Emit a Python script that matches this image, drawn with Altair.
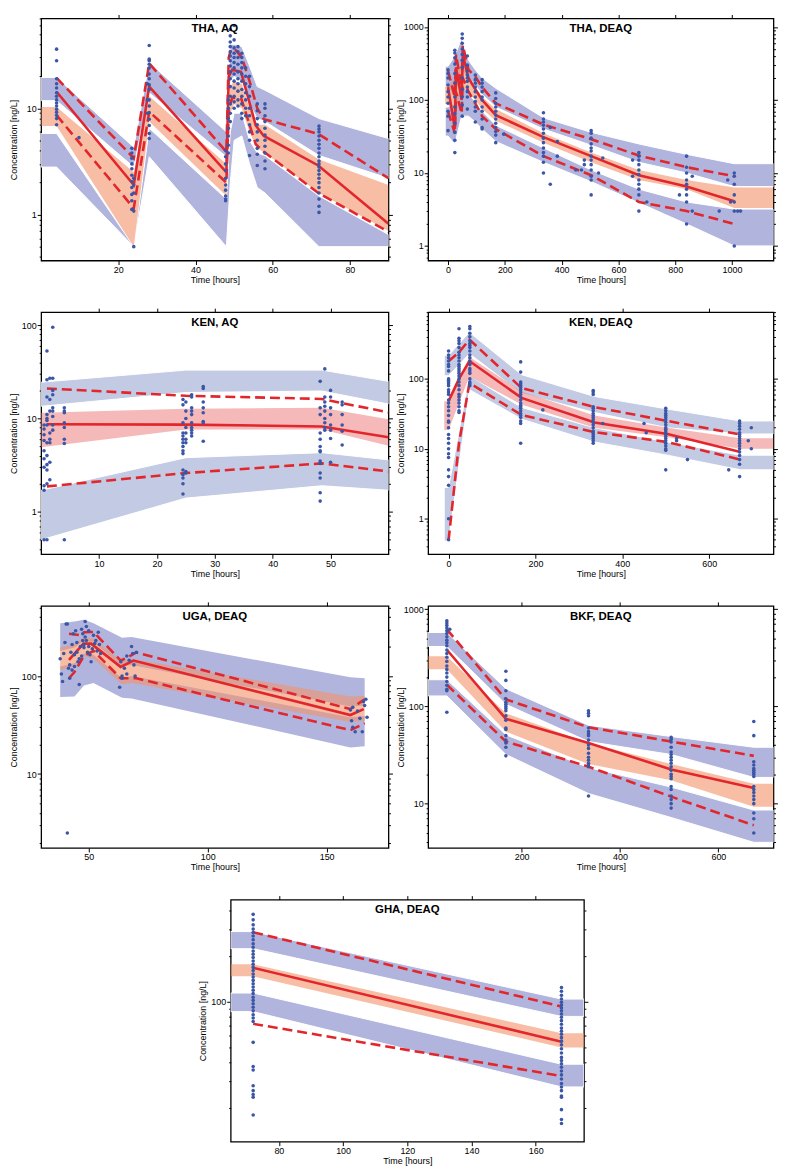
import altair as alt
import pandas as pd

FONT = "Liberation Sans"
RED = "#e3262b"
DOT = "#3b56a6"
BLUE_A = "#b1b5de"
BLUE_K = "#c2cae4"
ORANGE = "#f29369"
PINK = "#ee8a8a"

# ---------------- THA, AQ ----------------
THA_AQ_BT = [0, 4, 24, 28, 48, 49, 50, 52, 54, 56, 58, 72, 90]
THA_AQ_UL = [11.8, 11.8, 2.8, 14, 3.5, 18, 20, 18, 11, 8, 7.5, 3.6, 2.2]
THA_AQ_UH = [19.5, 19.5, 4.3, 27, 6, 40, 40, 38, 25, 16, 14.8, 8, 5.2]
THA_AQ_ML = [6.8, 6.8, 0.5, 7.5, 1.5, 9, 11, 10, 6, 4.2, 3.8, 1.6, 0.7]
THA_AQ_MH = [10.3, 10.3, 2.5, 13, 3.0, 16, 18, 17, 10, 7, 7, 3.3, 1.9]
THA_AQ_LL = [2.8, 2.8, 0.5, 3.5, 0.5, 2, 5, 5.5, 3, 1.8, 1.6, 0.5, 0.5]
THA_AQ_LH = [5.8, 5.8, 0.5, 6.5, 1.4, 6, 9, 9, 5, 3.8, 3.6, 1.5, 0.65]
THA_AQ_MED = ([4, 24, 28, 48, 48.6, 49.5, 51.8, 55.6, 57.7, 71.8, 90],
              [14.3, 1.9, 16, 2.5, 20, 23, 22, 6.9, 5.5, 2.9, 0.82])
THA_AQ_P95 = ([4, 24, 28, 48, 48.6, 49.2, 50.5, 52, 54, 56, 57.7, 71.8, 90],
              [19.3, 3.4, 26.5, 3.9, 30, 36, 35, 30, 18, 10, 7.9, 5.75, 2.2])
THA_AQ_P05 = ([4, 24, 28, 48, 48.6, 49.5, 51.8, 55.6, 57.7, 71.8, 90],
              [8.6, 1.15, 9.3, 2.0, 10, 12.5, 12.5, 4.6, 3.9, 1.6, 0.69])
THA_AQ_OBS = [
    (4, [36, 28, 19, 17, 15.5, 14, 13, 12, 11.2, 10.5, 9.8, 9.2, 8.6, 8, 7]),
    (9.8, [5.3]),
    (23.5, [4.2, 3.8, 3.4, 3.0, 2.7, 2.35, 2.05, 1.8, 1.55, 1.35, 1.12]),
    (24, [1.08, 0.5, 2.2, 1.9, 1.6]),
    (27.5, [17, 12, 9]),
    (28, [39, 29, 28, 26, 24, 21, 19, 16.6, 15, 12, 10.5, 9.1, 7.9, 6.9, 5.8, 5.2]),
    (47.8, [4, 3.5, 3, 2.6, 2.2, 1.9, 1.7, 1.5, 1.4, 1.35]),
    (48.5, [12, 10, 8, 6.5, 5.5, 4.5, 3.8]),
    (49, [55, 48, 42, 38, 34, 31, 28, 25, 22, 19, 16, 13, 11, 9, 7.5]),
    (50, [60, 44, 37, 33, 30, 27, 24, 21, 18, 15.5, 13, 11.5, 10]),
    (51, [38, 34, 30, 26, 22, 19, 17, 14.5, 12, 10.5]),
    (52, [33, 30, 27, 24, 21, 18, 15, 13, 11, 9, 8]),
    (53, [24, 20, 17, 14, 12, 10, 8.5]),
    (54, [20, 16, 13, 10, 8.5, 7, 6, 5, 3.6]),
    (56, [11, 9.5, 8, 7, 6, 5, 4.2, 3.7, 2.9]),
    (58, [11, 10, 8.5, 7.5, 6.5, 5.6, 5, 4.4, 3.8, 3.2, 2.7]),
    (72, [6.8, 6.4, 6, 5.5, 5, 4.6, 4.2, 3.8, 3.5, 3.2, 3, 2.8, 2.6, 2.4, 2.2, 2,
          1.8, 1.6, 1.4, 1.2, 1.05]),
]

# ---------------- THA, DEAQ ----------------
THA_DE_BT = [-10, 0, 24, 48, 72, 96, 120, 168, 336, 504, 672, 840, 1008, 1146]
THA_DE_UL = [150, 150, 100, 250, 200, 160, 120, 80, 40, 24, 14, 10, 6.5, 6.5]
THA_DE_UH = [290, 290, 400, 700, 350, 260, 200, 145, 57, 36, 25, 18, 13.4, 13.4]
THA_DE_ML = [88, 88, 60, 150, 130, 100, 75, 52, 26, 14, 8, 6, 3.3, 3.3]
THA_DE_MH = [150, 150, 200, 350, 200, 150, 110, 75, 35, 19, 11, 8, 6.3, 6.3]
THA_DE_LL = [32, 32, 25, 60, 60, 50, 40, 27, 14, 7.6, 3.9, 2.0, 1.0, 1.0]
THA_DE_LH = [80, 80, 90, 180, 120, 95, 70, 45, 22, 11, 6, 4, 3.2, 3.2]
THA_DE_T = [0, 24, 28, 48, 52, 72, 96, 120, 168, 336, 504, 672, 840, 1008]
THA_DE_MED = (THA_DE_T, [150, 40, 280, 100, 420, 200, 140, 100, 62, 31, 17, 9.3, 6.5, 4.1])
THA_DE_P95 = (THA_DE_T, [250, 110, 420, 150, 560, 260, 210, 150, 90, 46, 29, 17.3, 12, 9])
THA_DE_P05 = (THA_DE_T, [70, 35, 130, 65, 200, 130, 90, 60, 40, 17, 9.3, 4.0, 3.0, 2.0])
THA_DE_OBS = [
    (0, [260, 230, 200, 160, 130, 110, 90, 70, 60, 38]),
    (24, [480, 440, 380, 310, 230, 170, 110, 80, 65, 48, 36, 28, 19]),
    (50, [800, 700, 600, 500, 420, 350, 280, 200, 140, 110, 85, 60]),
    (68, [400, 300, 250, 220, 200, 180, 150, 130, 110, 75]),
    (96, [220, 190, 170, 150, 130, 110, 95, 80, 70, 50]),
    (120, [190, 170, 150, 130, 110, 100, 80, 70, 55, 42, 40]),
    (168, [125, 105, 90, 80, 70, 62, 55, 48, 42, 37, 33, 26]),
    (196, [34]),
    (336, [67, 55, 50, 45, 40, 35, 30, 26, 22, 19, 17, 14, 10]),
    (360, [7, 42]), (385, [27, 17]), (450, [11]), (470, [11]),
    (504, [38, 35, 30, 25, 22, 20, 17, 15, 13, 11, 9, 8, 5]),
    (480, [15, 13]), (530, [10]), (545, [16]),
    (672, [19, 17, 15, 13, 11, 9.5, 8, 7, 6, 5, 3]),
    (650, [15, 9]), (700, [4]),
    (840, [17, 12, 10, 8, 7, 6, 5, 4, 2]),
    (815, [5]), (860, [9, 3]), (955, [3]), (985, [8]),
    (1008, [10, 9, 7, 5, 4, 3, 1]),
    (995, [4]), (1020, [3]), (1030, [3]),
]

# ---------------- KEN, AQ ----------------
KEN_AQ_BT = [0, 25, 48.5, 60]
KEN_AQ_UL = [13.5, 19, 19.7, 14.3]
KEN_AQ_UH = [24.5, 33, 33, 25]
KEN_AQ_ML = [4.9, 7.6, 7.6, 5.1]
KEN_AQ_MH = [11.5, 12.7, 13, 9.8]
KEN_AQ_LL = [0.5, 1.4, 1.9, 1.7]
KEN_AQ_LH = [1.7, 3.8, 4.3, 3.6]
KEN_AQ_T = [1, 25, 48.5, 60]
KEN_AQ_MED = (KEN_AQ_T, [8.66, 8.6, 8.2, 6.3])
KEN_AQ_P95 = (KEN_AQ_T, [21, 17.5, 16.2, 11.6])
KEN_AQ_P05 = (KEN_AQ_T, [1.87, 2.6, 3.3, 2.7])
KEN_AQ_OBS = [
    (0.5, [8.5, 7.7, 6.7, 5.8, 4.5, 3.7, 3.0, 1.9, 1.7, 0.5]),
    (1, [53, 26, 17, 11, 10, 9.5, 8.5, 5.5, 4.0, 3.2, 2.8, 2.0, 0.5]),
    (1.5, [27, 16, 12, 7, 6, 5.5, 3.4, 2.2]),
    (2, [95, 27, 20, 18, 13, 12, 10.5, 8.5, 7.5]),
    (4, [13, 12, 11.5, 9, 8, 6, 5.4, 0.5]),
    (24.5, [16, 14, 9, 7, 6.5, 6, 5.5, 5, 4.5, 4.2, 2.8, 2.5, 2.3, 2.0, 1.55]),
    (25, [15, 12, 10, 8, 7, 6, 5.5, 2.7, 2.6]),
    (26, [18, 17, 13, 12, 11, 9, 8, 7.5, 7, 6.5]),
    (28, [22, 21, 15, 13, 11.5, 9.3, 9, 5.7]),
    (48.2, [25, 13, 11, 7, 6, 5, 4.5, 4.4, 3.5, 3.3, 2.6, 2.3, 1.6, 1.3]),
    (49, [34, 17, 15, 13.5, 12, 10, 9, 8, 7.5]),
    (50, [20, 17, 13, 11, 8.5, 7.5, 6.1, 3.4]),
    (52, [15, 14, 11, 8.5, 7.3, 5.2]),
]

# ---------------- KEN, DEAQ ----------------
KEN_DE_BT = [-10, 0, 48, 168, 336, 504, 672, 748]
KEN_DE_UL = [111, 111, 229, 62, 33, 20, 16.3, 16.3]
KEN_DE_UH = [217, 217, 463, 115, 56, 37, 25, 25]
KEN_DE_ML = [18.6, 18.6, 108, 43, 20, 14.6, 10, 10]
KEN_DE_MH = [48, 48, 206, 66, 30, 20, 14.2, 14.2]
KEN_DE_LL = [0.48, 0.48, 70, 26.6, 12.5, 8.1, 5.0, 5.0]
KEN_DE_LH = [2.8, 2.8, 111, 39, 20, 12.5, 8.1, 8.1]
KEN_DE_T = [0, 24, 48, 168, 336, 504, 672]
KEN_DE_MED = (KEN_DE_T, [48, 100, 180, 53.5, 23.8, 16.3, 9.0])
KEN_DE_P95 = (KEN_DE_T, [179, 240, 365, 74, 39.5, 25, 16])
KEN_DE_P05 = (KEN_DE_T, [0.49, 12, 87, 30.5, 17.3, 12.5, 7.0])
KEN_DE_OBS = [
    (0, [250, 220, 200, 180, 160, 150, 130, 100, 95, 90, 85, 80, 70, 65, 60, 50, 45,
         40, 35, 30, 25, 24, 20, 16, 14, 12, 10, 8.5, 7.5, 5, 4, 3, 1, 0.5]),
    (24, [520, 380, 350, 320, 280, 240, 220, 200, 180, 160, 150, 140, 130, 120, 110,
          100, 90, 80, 70, 60, 55, 50, 45, 40, 35, 33]),
    (49, [560, 520, 450, 400, 350, 320, 300, 280, 250, 220, 200, 180, 160, 140, 130,
          120, 100, 90, 85, 80]),
    (166, [175, 125, 90, 85, 80, 75, 70, 65, 60, 55, 50, 45, 42, 40, 38, 35, 32, 30,
           28, 25, 23, 12]),
    (217, [36]),
    (333, [68, 65, 60, 40, 38, 35, 32, 30, 28, 26, 24, 22, 20, 18, 17, 16, 15, 14, 13, 12]),
    (355, [23]), (450, [23]), (455, [17]),
    (500, [38, 35, 32, 30, 28, 26, 24, 22, 20, 19, 18, 17, 16, 15, 14, 13, 12, 11, 10,
           9.5, 5]),
    (525, [13, 14]), (550, [7]),
    (670, [25, 23, 21, 19, 17, 16, 15, 14, 13, 12, 11, 10, 9, 8, 7, 6, 4]),
    (645, [5]), (690, [13]), (697, [20, 10]),
]

# ---------------- UGA, DEAQ ----------------
UGA_BT = [38, 44, 48, 52, 64, 68, 160, 166]
UGA_UL = [180, 195, 230, 220, 125, 130, 49, 50]
UGA_UH = [346, 360, 375, 346, 246, 250, 97, 95]
UGA_ML = [115, 125, 160, 150, 82, 85, 34, 35]
UGA_MH = [195, 210, 250, 240, 140, 150, 62, 63]
UGA_LL = [61, 62, 80, 85, 60, 59, 18.7, 19.2]
UGA_LH = [125, 135, 170, 165, 95, 100, 38, 39]
UGA_MED = ([41.7, 47.8, 51, 63.4, 68.8, 160, 165.6], [146, 214, 214, 124, 144, 40, 46])
UGA_P95 = ([41.7, 46, 48, 52, 63.4, 66, 70, 160, 166],
           [270, 262, 280, 282, 144, 153, 174, 46, 58])
UGA_P05 = ([41.7, 44, 48, 52, 63.4, 66, 70, 160, 166],
           [95, 110, 161, 181, 95, 95, 95, 28, 33])
UGA_OBS = [
    (38, [150]), (38.5, [105]), (39, [88]), (39.5, [170]), (40, [220]), (40.5, [340]),
    (41, [340, 2.5]), (41.5, [120]), (42, [95, 130]), (42.5, [175]), (43, [115, 210]),
    (43.5, [270]), (44, [125, 165]), (44.5, [290]), (45, [175, 220]), (45.5, [140]),
    (46, [82, 150]), (46.5, [200]), (47, [300, 160]), (47.5, [270, 230]),
    (48, [195, 210]), (48.5, [360, 250]), (49, [320, 230]), (49.5, [175]),
    (50, [290, 200]), (50.5, [165]), (51, [140]), (51.5, [190]), (52, [260]),
    (52.5, [215]), (53, [230]), (53.5, [180]), (54, [280]), (54.5, [210]), (55, [170]),
    (63, [77]), (63.5, [140]), (64, [95, 100]), (65, [120]), (66, [160, 105]),
    (67, [145]), (68, [200]), (68.5, [170]), (69, [130]), (69.5, [100]), (70, [175]),
    (160, [45]), (160.5, [35]), (161, [30, 48]), (162, [27]), (163, [44]), (164, [37]),
    (165, [27]), (165.5, [55]), (166, [50]), (166.5, [58]), (167, [38]),
]

# ---------------- BKF, DEAQ ----------------
BKF_BT = [10, 48, 168, 336, 504, 672, 712]
BKF_UL = [413, 413, 105, 43.5, 32, 18.6, 18.6]
BKF_UH = [575, 575, 152, 64, 49, 38, 38]
BKF_ML = [241, 241, 55, 25.5, 17.4, 9.3, 9.3]
BKF_MH = [327, 327, 85, 42, 25.5, 16, 16]
BKF_LL = [128, 128, 32, 12.7, 7.2, 4.0, 4.0]
BKF_LH = [188, 188, 51, 23.5, 14.8, 8.6, 8.6]
BKF_T = [48, 168, 336, 504, 672]
BKF_MED = (BKF_T, [382, 74.5, 42, 22.5, 14.5])
BKF_P95 = (BKF_T, [620, 118, 61, 43.5, 31])
BKF_P05 = (BKF_T, [167, 43.5, 24, 11.8, 6.0])
BKF_OBS = [
    (48, [760, 720, 680, 640, 600, 560, 520, 480, 450, 420, 380, 350, 320, 290, 260,
          240, 220, 200, 180, 165, 150, 145, 87]),
    (54, [620]),
    (168, [230, 185, 145, 120, 110, 105, 100, 95, 90, 80, 72, 60, 58, 50, 45, 42, 38, 31]),
    (336, [90, 85, 80, 60, 55, 52, 50, 45, 40, 37, 33, 30, 28, 26, 25, 24, 12]),
    (504, [48, 46, 43, 38, 34, 32, 30, 28, 26, 24, 22, 20, 19, 18, 15, 14, 12, 11, 10, 9]),
    (672, [70, 50, 27, 25, 23, 22, 21, 20, 19, 15, 14, 13, 12, 11, 10, 8, 7, 5]),
]

# ---------------- GHA, DEAQ ----------------
GHA_BT = [65, 72, 168, 175]
GHA_UL = [223, 223, 80, 80]
GHA_UH = [289, 289, 104, 104]
GHA_ML = [147, 147, 50, 50]
GHA_MH = [176, 176, 62, 62]
GHA_LL = [86, 86, 27.5, 27.5]
GHA_LH = [114, 114, 38.8, 38.8]
GHA_T = [72, 168]
GHA_MED = (GHA_T, [167, 54.5])
GHA_P95 = (GHA_T, [286, 93])
GHA_P05 = (GHA_T, [71.5, 32.4])
GHA_OBS = [
    (72, [375, 345, 320, 300, 285, 270, 255, 240, 228, 215, 205, 195, 185, 176, 168, 160,
          152, 145, 138, 131, 125, 119, 113, 107, 102, 97, 92, 87, 82, 78, 74, 54, 37.5,
          35.5, 28, 26, 24.5, 23.5, 18]),
    (168, [124, 117, 110, 104, 99, 95, 91, 87, 83, 79, 75, 71, 67, 64, 61, 58, 55, 52, 49,
           46, 43, 41, 39, 37, 35, 33, 31, 29, 27.5, 26, 24, 23.5, 19.5, 16.8, 15.8]),
]

MAJ = "datum.value == 1 || datum.value == 10 || datum.value == 100 || datum.value == 1000"


def log_ticks(lo, hi):
    out = []
    for e in range(-2, 4):
        for m in range(1, 10):
            v = round(m * 10 ** e, 6)
            if lo <= v <= hi:
                out.append(v)
    return out


def obs_df(obs):
    ts, vs = [], []
    for t, vals in obs:
        for v in vals:
            ts.append(t)
            vs.append(v)
    return pd.DataFrame({"t": ts, "v": vs})


def panel(title, W, H, xdom, ydom, xticks, bt, ul, uh, ml, mh, ll, lh,
          med, p95, p05, obs, blue, medc, stroke=True):
    yt = log_ticks(*ydom)
    ysc = alt.Scale(type="log", domain=ydom, nice=False)
    xsc = alt.Scale(domain=xdom, nice=False, zero=False)
    X = alt.X("t:Q", scale=xsc, axis=None)
    bands = pd.DataFrame({"t": bt, "ul": ul, "uh": uh, "ml": ml, "mh": mh,
                          "ll": ll, "lh": lh})
    akw = dict(clip=True, fill=blue, opacity=1)
    if stroke:
        akw.update(stroke="white", strokeWidth=1)
    base = alt.Chart(bands)
    a_up = base.mark_area(**akw).encode(
        x=X, y=alt.Y("ul:Q", scale=ysc, axis=None), y2="uh:Q")
    a_lo = base.mark_area(**akw).encode(
        x=X, y=alt.Y("ll:Q", scale=ysc, axis=None), y2="lh:Q")
    a_md = base.mark_area(clip=True, fill=medc, fillOpacity=0.6).encode(
        x=X, y=alt.Y("ml:Q", scale=ysc, axis=None), y2="mh:Q")

    def line(tv, dash):
        df = pd.DataFrame({"t": tv[0], "v": tv[1], "i": list(range(len(tv[0])))})
        kw = dict(clip=True, color=RED, strokeWidth=2.6)
        if dash:
            kw["strokeDash"] = [10, 5]
        return alt.Chart(df).mark_line(**kw).encode(
            x=X, y=alt.Y("v:Q", scale=ysc, axis=None), order="i:Q")

    od = obs_df(obs)
    pts = alt.Chart(od).mark_circle(size=13, color=DOT, opacity=1, clip=True).encode(
        x=alt.X("t:Q", scale=xsc, axis=alt.Axis(
            orient="bottom", values=xticks, title="Time [hours]", format="d",
            tickSize=4)),
        y=alt.Y("v:Q", scale=ysc, axis=alt.Axis(
            orient="left", values=yt, title="Concentration [ng/L]",
            labelExpr=f"{MAJ} ? format(datum.value, 'd') : ''", labelOverlap=False,
            labelFontSize={"condition": {"test": MAJ, "value": 9}, "value": 0},
            tickSize={"condition": {"test": MAJ, "value": 4}, "value": 2},
            minExtent=22, maxExtent=22)),
    )
    sec = alt.Chart(od).mark_circle(size=1, opacity=0).encode(
        x=alt.X("t:Q", scale=xsc, axis=alt.Axis(
            orient="top", values=xticks, labels=False, title=None, tickSize=4,
            minExtent=0)),
        y=alt.Y("v:Q", scale=ysc, axis=alt.Axis(
            orient="right", values=yt, labels=False, title=None,
            tickSize={"condition": {"test": MAJ, "value": 4}, "value": 2},
            minExtent=0)),
    )
    ttl = alt.Chart(alt.Data(values=[{"a": 1}])).mark_text(
        text=title, fontWeight="bold", fontSize=11.5, font=FONT, baseline="middle"
    ).encode(x=alt.value(W / 2), y=alt.value(11))
    return alt.layer(a_up, a_lo, a_md, line(med, False), line(p95, True),
                     line(p05, True), pts, sec, ttl).resolve_axis(
        x="independent", y="independent").properties(width=W, height=H)


W1, W2, H = 350, 348, 244

p1 = panel("THA, AQ", W1, H, [0, 90], [0.37, 70], [20, 40, 60, 80],
           THA_AQ_BT, THA_AQ_UL, THA_AQ_UH, THA_AQ_ML, THA_AQ_MH, THA_AQ_LL, THA_AQ_LH,
           THA_AQ_MED, THA_AQ_P95, THA_AQ_P05, THA_AQ_OBS, BLUE_A, ORANGE)
p2 = panel("THA, DEAQ", W2, H, [-70, 1146], [0.63, 1310], [0, 200, 400, 600, 800, 1000],
           THA_DE_BT, THA_DE_UL, THA_DE_UH, THA_DE_ML, THA_DE_MH, THA_DE_LL, THA_DE_LH,
           THA_DE_MED, THA_DE_P95, THA_DE_P05, THA_DE_OBS, BLUE_A, ORANGE)
p3 = panel("KEN, AQ", W1, H, [0, 60], [0.35, 138], [10, 20, 30, 40, 50],
           KEN_AQ_BT, KEN_AQ_UL, KEN_AQ_UH, KEN_AQ_ML, KEN_AQ_MH, KEN_AQ_LL, KEN_AQ_LH,
           KEN_AQ_MED, KEN_AQ_P95, KEN_AQ_P05, KEN_AQ_OBS, BLUE_K, PINK)
p4 = panel("KEN, DEAQ", W2, H, [-47, 748], [0.31, 900], [0, 200, 400, 600],
           KEN_DE_BT, KEN_DE_UL, KEN_DE_UH, KEN_DE_ML, KEN_DE_MH, KEN_DE_LL, KEN_DE_LH,
           KEN_DE_MED, KEN_DE_P95, KEN_DE_P05, KEN_DE_OBS, BLUE_K, PINK)
p5 = panel("UGA, DEAQ", W1, H, [30, 176], [1.76, 520], [50, 100, 150],
           UGA_BT, UGA_UL, UGA_UH, UGA_ML, UGA_MH, UGA_LL, UGA_LH,
           UGA_MED, UGA_P95, UGA_P05, UGA_OBS, BLUE_A, ORANGE, stroke=False)
p6 = panel("BKF, DEAQ", W2, H, [10, 712], [3.5, 1080], [200, 400, 600],
           BKF_BT, BKF_UL, BKF_UH, BKF_ML, BKF_MH, BKF_LL, BKF_LH,
           BKF_MED, BKF_P95, BKF_P05, BKF_OBS, BLUE_A, ORANGE)
p7 = panel("GHA, DEAQ", 356, H, [65, 175], [12, 469], [80, 100, 120, 140, 160],
           GHA_BT, GHA_UL, GHA_UH, GHA_ML, GHA_MH, GHA_LL, GHA_LH,
           GHA_MED, GHA_P95, GHA_P05, GHA_OBS, BLUE_A, ORANGE)

chart = alt.vconcat(
    alt.hconcat(p1, p2, spacing=1),
    alt.hconcat(p3, p4, spacing=1),
    alt.hconcat(p5, p6, spacing=1),
    p7,
    spacing=21, center=True,
).properties(
    padding={"left": 0, "top": 0, "right": 0, "bottom": 0}
).configure_view(
    stroke="black", strokeWidth=1.3
).configure_axis(
    labelFont=FONT, labelFontSize=9, labelColor="black", labelPadding=1,
    titleFont=FONT, titleFontSize=9, titleFontWeight="normal", titleColor="black",
    titlePadding=1, tickColor="black", tickWidth=1, domain=False, grid=False,
)

chart.save("out.html", embed_options={"renderer": "svg", "actions": False})
